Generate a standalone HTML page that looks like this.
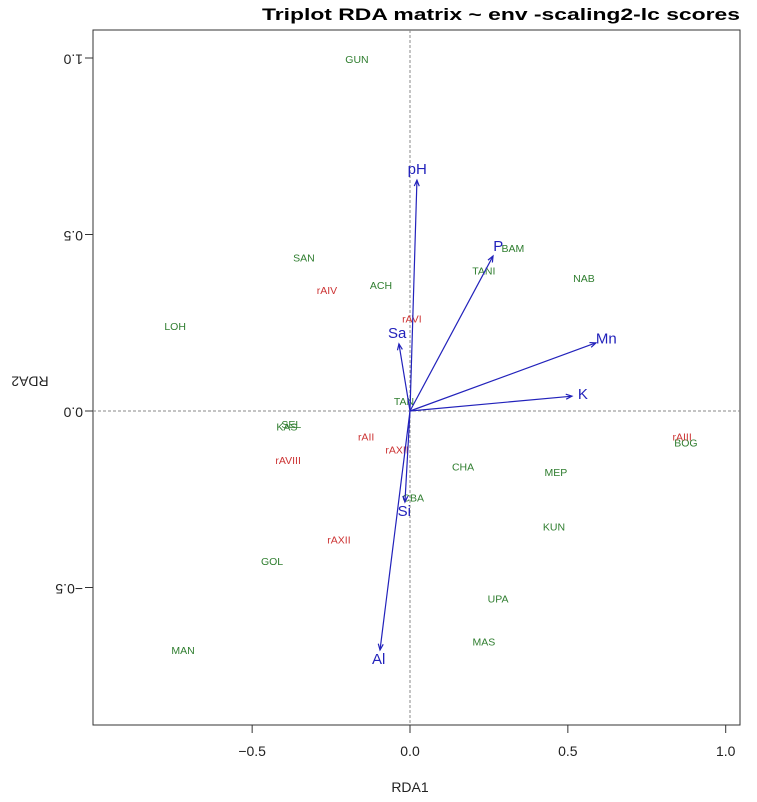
<!DOCTYPE html>
<html><head><meta charset="utf-8"><style>
body{margin:0;background:#fff;}
svg{display:block;font-family:"Liberation Sans",sans-serif;}
</style></head><body>
<svg id="chart" width="757" height="802" xmlns="http://www.w3.org/2000/svg">
<text x="501" y="20" text-anchor="middle" font-size="17" font-weight="bold" textLength="478" lengthAdjust="spacingAndGlyphs">Triplot RDA matrix ~ env -scaling2-lc scores</text>
<rect x="93" y="30" width="647" height="695" fill="none" stroke="#333" stroke-width="1"/>
<g id="axes"></g>
<g id="marks"></g>
<text x="410" y="792" text-anchor="middle" font-size="14" fill="#222">RDA1</text>
<text transform="translate(30,380) rotate(180)" text-anchor="middle" dominant-baseline="middle" font-size="14" fill="#222">RDA2</text>
</svg>
<script>
const xTicks=[-0.5,0,0.5,1.0];
const xTickLabels=["\u22120.5","0.0","0.5","1.0"];
const yTicks=[-0.5,0,0.5,1.0];
const yTickLabels=["\u22120.5","0.0","0.5","1.0"];
const siteNames=["GUN","SAN","ACH","LOH","BAM","TANI","NAB","TAN","KAS","SEL","CHA","MEP","BOG","CBA","KUN","GOL","UPA","MAS","MAN"];
const siteX=[-0.168,-0.336,-0.092,-0.744,0.326,0.234,0.551,-0.019,-0.390,-0.376,0.168,0.462,0.874,0.010,0.456,-0.437,0.279,0.234,-0.719];
const siteY=[0.994,0.431,0.354,0.238,0.459,0.394,0.374,0.025,-0.047,-0.040,-0.161,-0.176,-0.093,-0.249,-0.331,-0.428,-0.535,-0.657,-0.680];
const lcNames=["rAIV","rAVI","rAII","rAXII","rAVIII","rAXII","rAIII"];
const lcX=[-0.263,0.006,-0.139,-0.041,-0.386,-0.225,0.862];
const lcY=[0.340,0.258,-0.076,-0.113,-0.142,-0.368,-0.076];
const envNames=["pH","P","Mn","K","Sa","Si","Al"];
const envX=[0.022,0.263,0.589,0.513,-0.035,-0.016,-0.095];
const envY=[0.654,0.439,0.193,0.042,0.190,-0.258,-0.677];

const NS="http://www.w3.org/2000/svg";
const L=93,R=740,T=30,B=725;
function sx(v){return 410+v*315.7;}
function sy(v){return 411-v*353;}
function mk(tag,attrs,parent,txt){const e=document.createElementNS(NS,tag);for(const k in attrs)e.setAttribute(k,attrs[k]);if(txt!==undefined)e.textContent=txt;parent.appendChild(e);return e;}
const axes=document.getElementById('axes'),marks=document.getElementById('marks');
xTicks.forEach((t,i)=>{
 const l=mk('line',{x1:sx(t),x2:sx(t),y1:B,y2:B+8,stroke:'#333'},axes);
 
 
 const tx=mk('text',{x:sx(t),y:B+31,'text-anchor':'middle','font-size':14,fill:'#222'},axes,xTickLabels[i]);
 
 
});
yTicks.forEach((t,i)=>{
 const l=mk('line',{x1:L-8,x2:L,y1:sy(t),y2:sy(t),stroke:'#333'},axes);
 
 
 const tx=mk('text',{transform:`translate(${L-10},${sy(t)}) rotate(180)`,'text-anchor':'start','dominant-baseline':'middle','font-size':14,fill:'#222'},axes,yTickLabels[i]);
 
 
});
const h=mk('line',{x1:L,x2:R,y1:sy(0),y2:sy(0),stroke:'#888','stroke-dasharray':'3,2'},axes);


const v=mk('line',{x1:sx(0),x2:sx(0),y1:T,y2:B,stroke:'#888','stroke-dasharray':'3,2'},axes);



siteNames.forEach((n,i)=>{
 const t=mk('text',{x:sx(siteX[i]),y:sy(siteY[i]),'text-anchor':'middle','dominant-baseline':'middle','font-size':10.5,fill:'#2e7d2e'},marks,n);
 
 
});
lcNames.forEach((n,i)=>{
 const t=mk('text',{x:sx(lcX[i]),y:sy(lcY[i]),'text-anchor':'middle','dominant-baseline':'middle','font-size':10.5,fill:'#cc3333'},marks,n);
 
 
});
envNames.forEach((n,i)=>{
 const x0=sx(0),y0=sy(0),x1=sx(envX[i]),y1=sy(envY[i]);
 const dx=x1-x0,dy=y1-y0,len=Math.hypot(dx,dy),ux=dx/len,uy=dy/len;
 const a=mk('line',{x1:x0,y1:y0,x2:x1,y2:y1,stroke:'#2222bb','stroke-width':1.2},marks);
 
 
 const hx1=x1-ux*6-uy*2.5,hy1=y1-uy*6+ux*2.5,hx2=x1-ux*6+uy*2.5,hy2=y1-uy*6-ux*2.5;
 const p=mk('path',{d:`M${hx1},${hy1}L${x1},${y1}L${hx2},${hy2}`,fill:'none',stroke:'#2222bb','stroke-width':1.2},marks);
 
 
 const t=mk('text',{x:x1+ux*11,y:y1+uy*10,'text-anchor':'middle','dominant-baseline':'middle','font-size':15,fill:'#2222bb'},marks,n);
 
 
});
</script>
</body></html>
